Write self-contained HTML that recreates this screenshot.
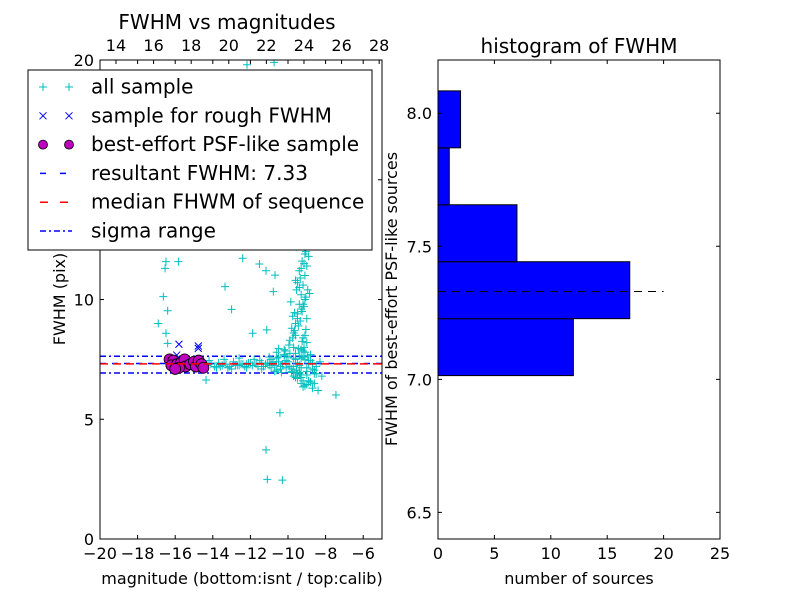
<!DOCTYPE html>
<html><head><meta charset="utf-8"><style>
html,body{margin:0;padding:0;background:#fff;}
svg{display:block;font-family:"DejaVu Sans","Liberation Sans",sans-serif;}
</style></head><body>
<svg id="c" width="800" height="600" xmlns="http://www.w3.org/2000/svg"></svg>
<script>
// ---- data ----
const allMag = [-16.49,-15.83,-16.54,-16.63,-16.40,-16.90,-16.49,-16.40,-14.36,-13.35,-13.00,-12.41,-11.52,-11.17,-11.88,-11.13,-10.43,-11.17,-11.10,-10.30,-7.45,-10.78,-10.69,-12.18,-10.74,
 -14.3,-14.1,-13.9,-13.7,-13.5,-13.3,-13.1,-12.9,-12.7,-12.5,-12.3,-12.1,-11.9,-11.7,-11.5,-11.3,-11.1,-10.9,-10.7,-10.5,-10.3,-10.1,-9.9,-9.7,-9.5,-9.3,-9.1,-8.9,-8.7,-8.5,-8.3,
 -14.2,-13.8,-13.4,-13.0,-12.6,-12.2,-11.8,-11.4,-11.0,-10.6,-10.2,-9.8,-9.4,-9.0,-8.6,-8.2,
 -10.6,-10.4,-10.2,-10.0,-9.8,-9.6,-9.4,-9.2,-9.0,-8.8,-10.5,-10.1,-9.7,-9.3,-8.9,
 -9.9,-9.7,-9.6,-9.5,-9.4,-9.3,-9.2,-9.1,-9.0,-8.9,-9.8,-9.5,-9.3,-9.1,-8.95,-9.6,-9.4,-9.2,-9.0,-9.35,-9.15,-9.55,-9.25,-9.05,-9.45,-9.65,-9.75,-9.85,-9.3,-9.1,
 -9.5,-9.3,-9.1,-8.9,-8.7,-9.7,-9.4,-9.2,-9.0,-8.8,-9.6,-9.2,-8.6,-8.5,-8.4,
 -9.5,-9.3,-9.7,-9.1,-9.4,-9.2,-9.6,-9.0,
 -10.8,-10.6,-10.4,-10.2,-10.0,-9.8,-9.6,-9.4,-9.2,-9.0,-8.8,-8.6,-10.7,-10.3,-9.9,-9.5,-9.1,-8.7,
 -10.9,-10.5,-10.1,-9.7,-9.3,-8.9,-10.35,-10.15,-9.95,-9.75,-9.55,-9.35,-9.15,-8.95,
 -9.45,-9.25,-9.05,-9.5,-9.3,-9.1,-9.4,-9.2,-9.6,-9.0,-9.35,-9.15,-9.55,-9.45,-9.25,-9.05,-9.65,-8.85,
 -12.6,-12.0,-11.6,-11.2,-10.8,-12.8,-12.4,-11.4,-11.0,-13.6,-13.2,-12.2];
const allFwhm = [11.58,11.58,11.30,10.12,9.53,9.00,8.59,8.17,6.64,10.54,9.59,11.72,11.48,11.20,8.59,8.73,5.27,3.72,2.49,2.46,6.01,10.33,11.02,19.8,19.9,
 7.25,7.3,7.2,7.35,7.25,7.3,7.2,7.4,7.25,7.3,7.2,7.35,7.25,7.3,7.45,7.2,7.35,7.5,7.25,7.6,7.3,7.45,7.2,7.55,7.35,7.15,7.5,7.3,7.1,7.2,7.4,
 7.45,7.15,7.5,7.1,7.55,7.15,7.5,7.1,7.6,7.05,7.7,6.95,7.65,7.0,6.9,6.8,
 7.8,7.1,7.9,7.6,7.0,7.75,6.95,7.85,6.85,7.7,7.95,7.15,8.0,6.75,6.6,
 8.3,8.6,9.0,9.4,9.8,10.2,10.6,11.0,11.4,11.8,8.8,9.2,9.6,10.0,10.4,10.8,11.2,8.4,8.2,9.1,9.7,10.4,11.6,12.0,12.3,8.7,9.3,9.9,7.9,8.5,
 6.7,6.5,6.4,6.6,6.3,6.8,6.9,6.6,6.45,6.55,6.75,6.35,6.5,6.9,6.2,
 12.8,13.5,14.2,15.0,16.5,13.0,14.8,17.5,
 7.35,7.55,7.2,7.65,7.4,7.1,7.5,7.25,7.6,7.15,7.45,7.05,7.0,7.3,7.75,6.9,7.8,7.35,
 7.15,7.4,7.3,7.2,7.55,7.45,6.95,7.85,8.1,8.4,7.05,6.85,8.0,7.65,
 8.9,9.5,10.1,10.7,11.3,11.9,10.5,9.8,8.5,9.2,10.9,11.5,12.2,7.95,8.25,8.75,9.45,10.25,
 7.25,7.35,7.2,7.3,7.4,7.25,7.3,7.35,7.25,7.2,7.15,7.3];
const roughMag = [-16.3,-16.1,-15.9,-15.7,-15.5,-15.2,-15.0,-14.75,-14.6,-15.8,-14.77,-14.77,-15.92];
const roughFwhm = [7.5,7.45,7.3,7.35,7.5,7.3,7.4,7.45,7.3,8.13,7.96,8.06,7.68];
const bestMag = [-16.3,-16.1,-16.2,-15.9,-15.7,-15.5,-15.45,-15.2,-15.0,-14.9,-14.75,-14.6,-14.5,-15.8,-16.0];
const bestFwhm = [7.5,7.45,7.25,7.3,7.35,7.5,7.2,7.3,7.4,7.2,7.45,7.3,7.15,7.15,7.1];
const resultFwhm = 7.33, medianFwhm = 7.31, sigLo = 6.93, sigHi = 7.63;
const binEdges = [7.014,7.228,7.442,7.656,7.870,8.084];
const binCounts = [12,17,7,1,2];
const bottomTicks = [-20,-18,-16,-14,-12,-10,-8,-6];
const topTicks = [14,16,18,20,22,24,26,28];
const leftYTicks = [0,5,10,15,20];
const histXTicks = [0,5,10,15,20,25];
const histYTicks = [6.5,7.0,7.5,8.0];
const topOffset = 33.15;

const NS="http://www.w3.org/2000/svg", svg=document.getElementById('c');
function el(t,a,p){const e=document.createElementNS(NS,t);for(const k in a)e.setAttribute(k,a[k]);(p||svg).appendChild(e);return e;}
function txt(s,a,p){const e=el('text',a,p);e.textContent=s;return e;}
const L={x0:100,x1:382,y0:60,y1:539};
const lx=m=>L.x0+(m+20)*(L.x1-L.x0)/15;
const ly=f=>L.y1-f*(L.y1-L.y0)/20;
const lg=el('g',{});

el('clipPath',{id:'lc'},lg);el('rect',{x:L.x0,y:L.y0,width:282,height:479},document.getElementById('lc'));
const plot=el('g',{'clip-path':'url(#lc)'},lg);

function hline(v,col,dash,name){const l=el('line',{x1:L.x0,x2:L.x1,y1:ly(v),y2:ly(v),stroke:col,'stroke-width':1.5,'stroke-dasharray':dash},plot);}
hline(sigLo,'#0000ff','6 3 2 3','sigma-low-line');
hline(sigHi,'#0000ff','6 3 2 3','sigma-high-line');
hline(resultFwhm,'#0000ff','6 6','resultant-fwhm-line');
for(let i=0;i<allMag.length;i++){const x=lx(allMag[i]),y=ly(allFwhm[i]);
 const p=el('path',{d:`M${x-4},${y}h8M${x},${y-4}v8`,stroke:'#00bfbf','stroke-width':1},plot);
 }
for(let i=0;i<roughMag.length;i++){const x=lx(roughMag[i]),y=ly(roughFwhm[i]);
 const p=el('path',{d:`M${x-3.5},${y-3.5}l7,7M${x-3.5},${y+3.5}l7,-7`,stroke:'#0000ff','stroke-width':1},plot);
 }
for(let i=0;i<bestMag.length;i++){const c=el('circle',{cx:lx(bestMag[i]),cy:ly(bestFwhm[i]),r:5.5,fill:'#bf00bf',stroke:'#000','stroke-width':0.8},plot);
 }
hline(medianFwhm,'#ff0000','8 5','median-fwhm-line');
el('rect',{x:L.x0,y:L.y0,width:282,height:479,fill:'none',stroke:'#000'},lg);
for(const t of bottomTicks){const x=lx(t);el('path',{d:`M${x},${L.y1}v-4M${x},${L.y0}v4`,stroke:'#000'},lg);
 const s=txt((t<0?'\u2212':'')+Math.abs(t),{x:x,y:559,'font-size':16,'text-anchor':'middle'},lg);}
for(const t of topTicks){const x=lx(t-topOffset);el('path',{d:`M${x},${L.y0}v4`,stroke:'#000'},lg);
 const s=txt(t,{x:x,y:51,'font-size':16,'text-anchor':'middle'},lg);}
for(const t of leftYTicks){const y=ly(t);el('path',{d:`M${L.x0},${y}h4M${L.x1},${y}h-4`,stroke:'#000'},lg);
 const s=txt(t,{x:94,y:y+6,'font-size':16,'text-anchor':'end'},lg);}
</script>
<script>
(function(){
const NS="http://www.w3.org/2000/svg", svg=document.getElementById('c');
function el(t,a,p){const e=document.createElementNS(NS,t);for(const k in a)e.setAttribute(k,a[k]);(p||svg).appendChild(e);return e;}
function txt(s,a,p){const e=el('text',a,p);e.textContent=s;return e;}
let t;
t=txt('FWHM vs magnitudes',{x:227,y:29,'font-size':20,'text-anchor':'middle'});

t=txt('magnitude (bottom:isnt / top:calib)',{x:242,y:584,'font-size':16,'text-anchor':'middle'});

t=txt('FWHM (pix)',{x:0,y:0,'font-size':16,'text-anchor':'middle',transform:'translate(65,299) rotate(-90)'});

const lg=el('g',{});

el('rect',{x:28,y:70,width:344,height:180,fill:'#fff',stroke:'#000'},lg);
const items=['all sample','sample for rough FWHM','best-effort PSF-like sample','resultant FWHM: 7.33','median FHWM of sequence','sigma range'];
items.forEach((s,i)=>{const y=87+i*28.8;
 const g=el('g',{},lg);
 if(i==0){for(const x of [43,69])el('path',{d:`M${x-4},${y}h8M${x},${y-4}v8`,stroke:'#00bfbf'},g);}
 if(i==1){for(const x of [43,69])el('path',{d:`M${x-3.5},${y-3.5}l7,7M${x-3.5},${y+3.5}l7,-7`,stroke:'#0000ff'},g);}
 if(i==2){for(const x of [43,69])el('circle',{cx:x,cy:y,r:4.5,fill:'#bf00bf',stroke:'#000','stroke-width':0.8},g);}
 if(i==3)el('line',{x1:40,x2:72,y1:y,y2:y,stroke:'#0000ff','stroke-width':1.5,'stroke-dasharray':'6 14'},g);
 if(i==4)el('line',{x1:40,x2:72,y1:y,y2:y,stroke:'#ff0000','stroke-width':1.5,'stroke-dasharray':'8 12'},g);
 if(i==5)el('line',{x1:40,x2:72,y1:y,y2:y,stroke:'#0000ff','stroke-width':1.5,'stroke-dasharray':'6 3 2 3'},g);
 txt(s,{x:91,y:y+6.5,'font-size':20},g);});
const H={x0:438,x1:720,y0:60,y1:539};
const hx=v=>H.x0+v*(H.x1-H.x0)/25;
const hy=v=>H.y1-(v-6.4)*(H.y1-H.y0)/1.8;
const hg=el('g',{});

for(let i=0;i<binCounts.length;i++){const y1=hy(binEdges[i+1]),y2=hy(binEdges[i]);
 const r=el('rect',{x:hx(0),y:y1,width:hx(binCounts[i])-hx(0),height:y2-y1,fill:'#0000ff',stroke:'#000','stroke-width':1},hg);
 }
const dl=el('line',{x1:hx(0),x2:hx(20),y1:hy(resultFwhm),y2:hy(resultFwhm),stroke:'#000','stroke-width':1,'stroke-dasharray':'8 6'},hg);

el('rect',{x:H.x0,y:H.y0,width:282,height:479,fill:'none',stroke:'#000'},hg);
for(const v of histXTicks){const x=hx(v);el('path',{d:`M${x},${H.y1}v-4M${x},${H.y0}v4`,stroke:'#000'},hg);
 t=txt(v,{x:x,y:559,'font-size':16,'text-anchor':'middle'},hg);}
for(const v of histYTicks){const y=hy(v);el('path',{d:`M${H.x0},${y}h4M${H.x1},${y}h-4`,stroke:'#000'},hg);
 t=txt(v.toFixed(1),{x:432,y:y+6,'font-size':16,'text-anchor':'end'},hg);}
t=txt('histogram of FWHM',{x:579,y:53,'font-size':20,'text-anchor':'middle'});

t=txt('number of sources',{x:579,y:584,'font-size':16,'text-anchor':'middle'});

t=txt('FWHM of best-effort PSF-like sources',{x:0,y:0,'font-size':16,'text-anchor':'middle',transform:'translate(397,299) rotate(-90)'});

})();
</script>
</body></html>
